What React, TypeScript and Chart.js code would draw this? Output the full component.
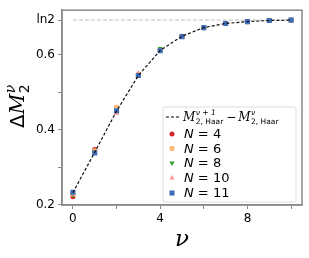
import React, { useEffect, useRef } from "react";
import { Chart, registerables } from "chart.js";

Chart.register(...registerables);

const LN2 = Math.log(2);
const nu = [0, 1, 2, 3, 4, 5, 6, 7, 8, 9, 10];
const haarDiff = [0.232, 0.340, 0.450, 0.545, 0.612, 0.650, 0.673, 0.684, 0.689, 0.692, 0.693];
const n4 = [0.221, 0.347, 0.448, 0.546, 0.614, 0.650, 0.673, 0.684, 0.689, 0.692, 0.693];
const n6 = [0.228, 0.343, 0.460, 0.548, 0.613, 0.650, 0.673, 0.684, 0.689, 0.692, 0.693];
const n8 = [0.226, 0.341, 0.449, 0.546, 0.617, 0.651, 0.673, 0.684, 0.689, 0.692, 0.693];
const n10 = [0.228, 0.338, 0.444, 0.552, 0.611, 0.648, 0.673, 0.684, 0.689, 0.692, 0.693];
const n11 = [0.233, 0.338, 0.451, 0.545, 0.611, 0.649, 0.673, 0.684, 0.689, 0.692, 0.693];
const yTicks = [0.2, 0.3, 0.4, 0.5, 0.6, LN2];
const yLabels = ["0.2", "", "0.4", "", "0.6", "ln2"];
const xTicks = [0, 2, 4, 6, 8, 10];
const xLabels = ["0", "", "4", "", "8", ""];

const seriesN = [
  { label: "4", data: n4, color: "#d62728", style: "circle", r: 2.5 },
  { label: "6", data: n6, color: "#ffbb78", style: "rectRounded", r: 3 },
  { label: "8", data: n8, color: "#2ca02c", style: "triangle", r: 3, rot: 180 },
  { label: "10", data: n10, color: "#ff9896", style: "triangle", r: 3, rot: 0 },
  { label: "11", data: n11, color: "#3f6fba", style: "rect", r: 3.6 },
];

const FONT = "'DejaVu Sans', sans-serif";
const GRAY = "#8a8a8a";

function drawPoint(ctx: CanvasRenderingContext2D, style: string, r: number, x: number, y: number, rot: number, color: string) {
  ctx.save();
  ctx.fillStyle = color;
  ctx.beginPath();
  if (style === "circle") {
    ctx.arc(x, y, r, 0, Math.PI * 2);
  } else if (style === "rect") {
    const s = r * Math.SQRT1_2;
    ctx.rect(x - s, y - s, 2 * s, 2 * s);
  } else if (style === "rectRounded") {
    const s = r * 0.8;
    (ctx as any).roundRect(x - s, y - s, 2 * s, 2 * s, s * 0.5);
  } else if (style === "triangle") {
    const rad = (rot * Math.PI) / 180;
    for (let k = 0; k < 3; k++) {
      const a = rad - Math.PI / 2 + (k * 2 * Math.PI) / 3;
      const px = x + r * Math.cos(a);
      const py = y + r * Math.sin(a);
      if (k === 0) ctx.moveTo(px, py);
      else ctx.lineTo(px, py);
    }
    ctx.closePath();
  }
  ctx.fill();
  ctx.restore();
}

const decorPlugin = {
  id: "decor",
  afterDraw(chart: any) {
    const { ctx, chartArea } = chart;
    const { left, right, top, bottom } = chartArea;
    ctx.save();
    // frame
    ctx.strokeStyle = GRAY;
    ctx.lineWidth = 1.5;
    ctx.strokeRect(left, top, right - left, bottom - top);

    // y title
    ctx.save();
    ctx.translate(24, 106);
    ctx.rotate(-Math.PI / 2);
    ctx.fillStyle = "#000";
    ctx.textBaseline = "alphabetic";
    ctx.textAlign = "left";
    let x = -22;
    ctx.font = `20px ${FONT}`;
    ctx.fillText("Δ", x, 0);
    x += ctx.measureText("Δ").width;
    ctx.font = `italic 20px 'DejaVu Serif', serif`;
    ctx.fillText("M", x, 0);
    x += ctx.measureText("M").width + 0.5;
    ctx.font = `14px ${FONT}`;
    ctx.fillText("2", x, 5);
    ctx.font = `italic 14px 'DejaVu Serif', serif`;
    ctx.fillText("ν", x, -9);
    ctx.restore();

    // x title
    ctx.fillStyle = "#000";
    ctx.font = `italic 23px 'DejaVu Serif', serif`;
    ctx.textAlign = "center";
    ctx.textBaseline = "middle";
    ctx.fillText("ν", (left + right) / 2, 240);

    // legend
    const bx = 163, by = 107, bw = 133, bh = 95;
    ctx.fillStyle = "rgba(255,255,255,0.9)";
    ctx.strokeStyle = "#dddddd";
    ctx.lineWidth = 1;
    ctx.beginPath();
    (ctx as any).roundRect(bx, by, bw, bh, 2);
    ctx.fill();
    ctx.stroke();

    // line entry
    ctx.strokeStyle = "#000";
    ctx.lineWidth = 1.2;
    ctx.setLineDash([3, 2]);
    ctx.beginPath();
    ctx.moveTo(166, 117);
    ctx.lineTo(181, 117);
    ctx.stroke();
    ctx.setLineDash([]);
    ctx.fillStyle = "#000";
    ctx.textAlign = "left";
    ctx.textBaseline = "alphabetic";
    let lx = 183;
    const ly = 121;
    const drawM = (sup: string) => {
      ctx.font = `italic 12px 'DejaVu Serif', serif`;
      ctx.fillText("M", lx, ly);
      lx += ctx.measureText("M").width + 0.5;
      ctx.font = `italic 7.5px ${FONT}`;
      ctx.fillText(sup, lx, ly - 6);
      const supW = ctx.measureText(sup).width;
      ctx.font = `7.5px ${FONT}`;
      ctx.fillText("2, Haar", lx, ly + 3);
      lx += Math.max(supW, ctx.measureText("2, Haar").width) + 1;
    };
    drawM("ν + 1");
    lx += 2;
    ctx.font = `12px ${FONT}`;
    ctx.fillText("−", lx, ly);
    lx += ctx.measureText("−").width + 2;
    drawM("ν");

    const rows = [134, 148.5, 163, 178, 193];
    seriesN.forEach((s, i) => {
      const yy = rows[i];
      drawPoint(ctx, s.style, s.r, 172, yy, (s as any).rot || 0, s.color);
      ctx.fillStyle = "#000";
      ctx.textBaseline = "middle";
      ctx.font = `italic 13px ${FONT}`;
      ctx.fillText("N", 184, yy + 1);
      const nw = ctx.measureText("N").width;
      ctx.font = `13px ${FONT}`;
      ctx.fillText(" = " + s.label, 184 + nw, yy + 1);
    });
    ctx.restore();
  },
};

export default function App() {
  const ref = useRef<HTMLCanvasElement>(null);
  useEffect(() => {
    document.body.style.margin = "0";
    const datasets: any[] = [
      {
        label: "ln2",
        data: [
          { x: nu[0], y: LN2 },
          { x: nu[nu.length - 1], y: LN2 },
        ],
        borderColor: "#bdbdbd",
        borderWidth: 1,
        borderDash: [4, 2],
        pointRadius: 0,
        showLine: true,
        order: 10,
      },
    ];
    seriesN.forEach((s, i) => {
      datasets.push({
        label: "N=" + s.label,
        data: nu.map((v, k) => ({ x: v, y: s.data[k] })),
        showLine: false,
        pointStyle: s.style,
        pointRadius: s.r,
        pointRotation: (s as any).rot || 0,
        backgroundColor: s.color,
        borderColor: s.color,
        borderWidth: 0,
        order: 9 - i,
      });
    });
    datasets.push({
      label: "haar",
      data: nu.map((v, k) => ({ x: v, y: haarDiff[k] })),
      showLine: true,
      borderColor: "#111",
      borderWidth: 1.2,
      borderDash: [3, 2],
      pointRadius: 0,
      order: 0,
    });
    const chart = new Chart(ref.current!, {
      type: "scatter",
      data: { datasets },
      options: {
        responsive: false,
        animation: false,
        devicePixelRatio: 1,
        layout: { padding: { top: 7, right: 7, left: 0, bottom: 0 } },
        plugins: { legend: { display: false }, tooltip: { enabled: false } },
        scales: {
          x: {
            type: "linear",
            min: -0.5,
            max: 10.5,
            afterBuildTicks: (s: any) => {
              s.ticks = xTicks.map((v) => ({ value: v }));
            },
            afterFit: (s: any) => {
              s.height = 53;
            },
            ticks: {
              callback: (v: any) => xLabels[xTicks.indexOf(Number(v))] ?? "",
              font: { family: FONT, size: 12 },
              color: "#000",
              padding: 3,
              maxRotation: 0,
              autoSkip: false,
            },
            grid: { drawOnChartArea: false, drawTicks: true, tickLength: 4, color: GRAY, lineWidth: 1 },
            border: { display: true, color: GRAY, width: 1.5 },
          },
          y: {
            type: "linear",
            min: 0.199,
            max: 0.7195,
            afterBuildTicks: (s: any) => {
              s.ticks = yTicks.map((v) => ({ value: v }));
            },
            afterFit: (s: any) => {
              s.width = 62;
            },
            ticks: {
              callback: (v: any) => {
                const i = yTicks.findIndex((t) => Math.abs(t - Number(v)) < 1e-9);
                return i >= 0 ? yLabels[i] : "";
              },
              font: { family: FONT, size: 12 },
              color: "#000",
              padding: 3,
              autoSkip: false,
            },
            grid: { drawOnChartArea: false, drawTicks: true, tickLength: 4, color: GRAY, lineWidth: 1 },
            border: { display: true, color: GRAY, width: 1.5 },
          },
        },
      },
      plugins: [decorPlugin],
    } as any);
    return () => chart.destroy();
  }, []);
  return (
    <div style={{ width: 309, height: 258 }}>
      <canvas ref={ref} width={309} height={258} />
    </div>
  );
}
